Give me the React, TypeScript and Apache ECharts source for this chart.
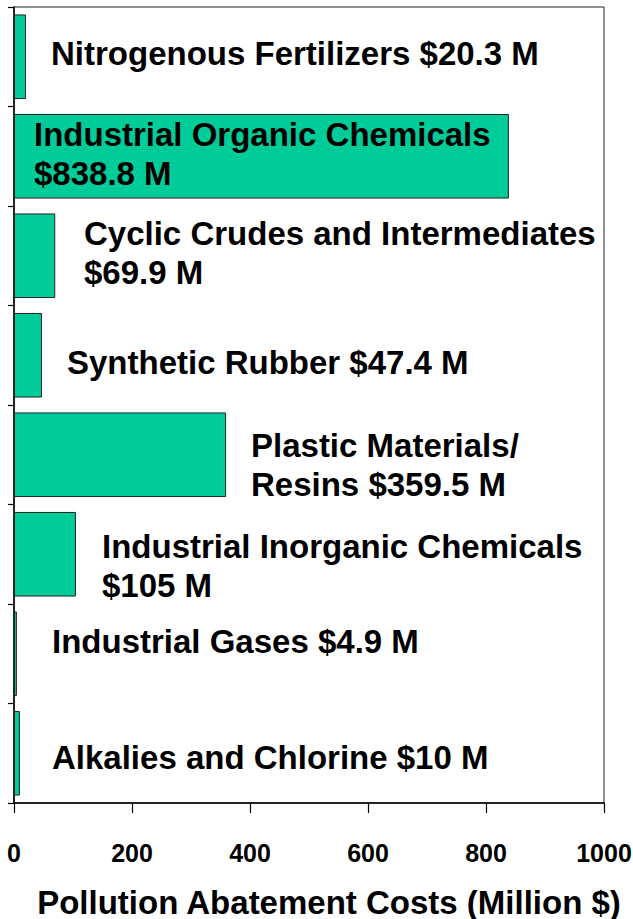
import React, { useEffect, useRef } from "react";
import * as echarts from "echarts";

const categories = [
  "Nitrogenous Fertilizers",
  "Industrial Organic Chemicals",
  "Cyclic Crudes and Intermediates",
  "Synthetic Rubber",
  "Plastic Materials/Resins",
  "Industrial Inorganic Chemicals",
  "Industrial Gases",
  "Alkalies and Chlorine",
];
const values = [20.3, 838.8, 69.9, 47.4, 359.5, 105, 4.9, 10];
const labelTexts = [
  "Nitrogenous Fertilizers $20.3 M",
  "Industrial Organic Chemicals\n$838.8 M",
  "Cyclic Crudes and Intermediates\n$69.9 M",
  "Synthetic Rubber $47.4 M",
  "Plastic Materials/\nResins $359.5 M",
  "Industrial Inorganic Chemicals\n$105 M",
  "Industrial Gases $4.9 M",
  "Alkalies and Chlorine $10 M",
];
const xTicks = { min: 0, max: 1000, interval: 200 };
const xTitle = "Pollution Abatement Costs (Million $)";

// label layout (px relative to bar's left edge / vertical centre)
const labelDx = [37, 20, 70, 53, 237, 88, 38, 38];
const labelDy = [-3, -2, -3, 7, 10, 12, -12, 4];

const FONT = "'Liberation Sans', Arial, Helvetica, sans-serif";

export default function App() {
  const ref = useRef<HTMLDivElement>(null);
  useEffect(() => {
    if (!ref.current) return;
    const chart = echarts.init(ref.current, undefined, { renderer: "svg" });
    chart.setOption({
      animation: false,
      backgroundColor: "#ffffff",
      grid: {
        left: 14,
        right: 29,
        top: 7,
        bottom: 116,
        containLabel: false,
        outerBoundsMode: "none",
        show: true,
        borderColor: "#222",
        borderWidth: 1,
        backgroundColor: "transparent",
      },
      xAxis: {
        type: "value",
        min: xTicks.min,
        max: xTicks.max,
        interval: xTicks.interval,
        splitLine: { show: false },
        axisLine: { show: true, lineStyle: { color: "#000", width: 1.5 } },
        axisTick: { show: true, length: 10, inside: false, lineStyle: { color: "#000", width: 1.2 } },
        axisLabel: {
          margin: 37,
          fontFamily: FONT,
          fontWeight: "bold",
          fontSize: 25,
          lineHeight: 25,
          color: "#000",
          formatter: (v: number) => String(v),
        },
        name: xTitle,
        nameLocation: "middle",
        nameGap: 84,
        nameTextStyle: {
          fontFamily: FONT,
          fontWeight: "bold",
          fontSize: 33,
          lineHeight: 30,
          color: "#000",
          padding: [0, 0, 0, 40],
        },
      },
      yAxis: {
        type: "category",
        inverse: true,
        data: categories,
        axisLine: { show: true, lineStyle: { color: "#000", width: 1.5 } },
        axisTick: { show: true, length: 6, lineStyle: { color: "#000", width: 1.2 } },
        axisLabel: { show: false },
        splitLine: { show: false },
      },
      series: [
        {
          type: "bar",
          barCategoryGap: "15%",
          data: values.map((v, i) => ({
            value: v,
            label: {
              show: true,
              formatter: labelTexts[i],
              position: [labelDx[i], "50%"],
              offset: [0, labelDy[i]],
              align: "left",
              verticalAlign: "middle",
              fontFamily: FONT,
              fontWeight: "bold",
              fontSize: 33,
              lineHeight: 39,
              color: "#000",
            },
          })),
          itemStyle: { color: "#00CC99", borderColor: "#222", borderWidth: 1 },
        },
      ],
    });
    return () => chart.dispose();
  }, []);
  return (
    <div
      ref={ref}
      style={{ position: "absolute", left: 0, top: 0, width: 633, height: 919 }}
    />
  );
}
